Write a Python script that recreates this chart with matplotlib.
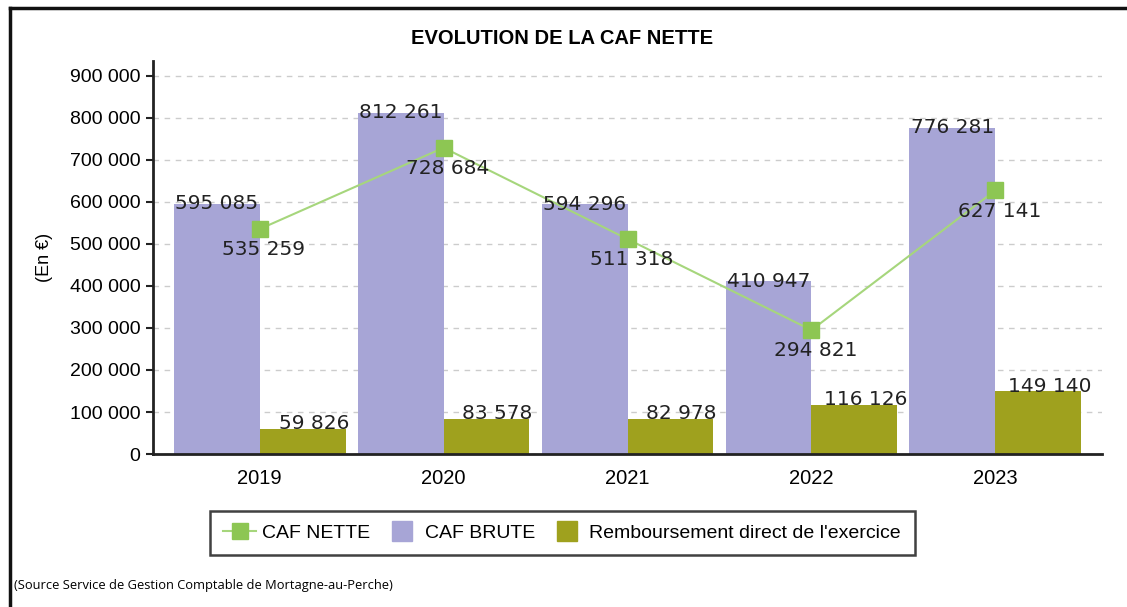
import numpy as np
import matplotlib
matplotlib.use('Agg')
import matplotlib.pyplot as plt
from matplotlib.lines import Line2D
from matplotlib.ticker import FuncFormatter

# Données
annees = ['2019', '2020', '2021', '2022', '2023']
caf_brute = [595085, 812261, 594296, 410947, 776281]
remboursement = [59826, 83578, 82978, 116126, 149140]
caf_nette = [535259, 728684, 511318, 294821, 627141]

c_brute = '#a7a5d6'
c_remb = '#9fa11e'
c_nette = '#8dc653'
c_ligne = '#a6d67c'

def fmt(v):
    return f"{v:,.0f}".replace(',', ' ')

plt.rcParams['font.family'] = ['Liberation Sans', 'DejaVu Sans']

fig = plt.figure(figsize=(11.27, 6.07), dpi=100)
ax = fig.add_axes([0.1358, 0.252, 0.842, 0.6475])

x = np.arange(len(annees))
w = 0.467
ax.bar(x - w / 2, caf_brute, w, color=c_brute, zorder=2)
ax.bar(x + w / 2, remboursement, w, color=c_remb, zorder=2)
ax.plot(x, caf_nette, color=c_ligne, lw=1.5, marker='s', ms=11,
        mfc=c_nette, mec=c_nette, zorder=3)

# Etiquettes des valeurs
lbl = dict(fontsize=14.5, family='DejaVu Sans', color='#222222', zorder=4)
for i in range(len(annees)):
    ax.text(x[i] - w / 2, caf_brute[i], fmt(caf_brute[i]), ha='center', va='center', **lbl)
    ax.annotate(fmt(remboursement[i]), (x[i] + w / 2, remboursement[i]),
                xytext=(8, -3), textcoords='offset points', ha='center', va='bottom', **lbl)
    ax.annotate(fmt(caf_nette[i]), (x[i], caf_nette[i]),
                xytext=(3, -8), textcoords='offset points', ha='center', va='top', **lbl)

ax.set_xlim(-0.58, 4.58)
ax.set_ylim(0, 935000)
ax.set_yticks(np.arange(0, 900001, 100000))
ax.yaxis.set_major_formatter(FuncFormatter(lambda v, p: fmt(v)))
ax.set_xticks(x)
ax.set_xticklabels(annees)
ax.tick_params(axis='y', labelsize=14, length=5, width=1.5, color='#222222', pad=4)
ax.tick_params(axis='x', labelsize=14.5, length=0, pad=11)
ax.set_ylabel('(En €)', fontsize=13, labelpad=12)

ax.grid(axis='y', color='#cccccc', linestyle=(0, (4, 4)), lw=1)
ax.set_axisbelow(True)
for s in ['top', 'right']:
    ax.spines[s].set_visible(False)
for s in ['left', 'bottom']:
    ax.spines[s].set_color('#222222')
    ax.spines[s].set_linewidth(2)

fig.text(0.499, 0.937, 'EVOLUTION DE LA CAF NETTE', ha='center', va='center',
         fontsize=14.5, fontweight='bold')

handles = [Line2D([0], [0], color=c_ligne, lw=1.5, marker='s', ms=11, mfc=c_nette, mec=c_nette),
           Line2D([0], [0], ls='none', marker='s', ms=15, mfc=c_brute, mec=c_brute),
           Line2D([0], [0], ls='none', marker='s', ms=15, mfc=c_remb, mec=c_remb)]
leg = fig.legend(handles, ['CAF NETTE', 'CAF BRUTE', "Remboursement direct de l'exercice"],
                 loc='center', bbox_to_anchor=(0.4987, 0.122), ncol=3, fontsize=14,
                 frameon=True, fancybox=False, handlelength=1.7, columnspacing=0.8,
                 handletextpad=0.3, borderpad=0.7)
leg.get_frame().set_edgecolor('#111111')
leg.get_frame().set_linewidth(1.8)

fig.text(0.0125, 0.035, '(Source Service de Gestion Comptable de Mortagne-au-Perche)',
         fontsize=9.3, family='Open Sans', ha='left', va='center')

# Cadre
fig.add_artist(Line2D([0.009, 1.0], [0.987, 0.987], color='#111111', lw=2.5))
fig.add_artist(Line2D([0.009, 0.009], [0.0, 0.987], color='#111111', lw=2.5))

fig.savefig('out.png', dpi=100)
